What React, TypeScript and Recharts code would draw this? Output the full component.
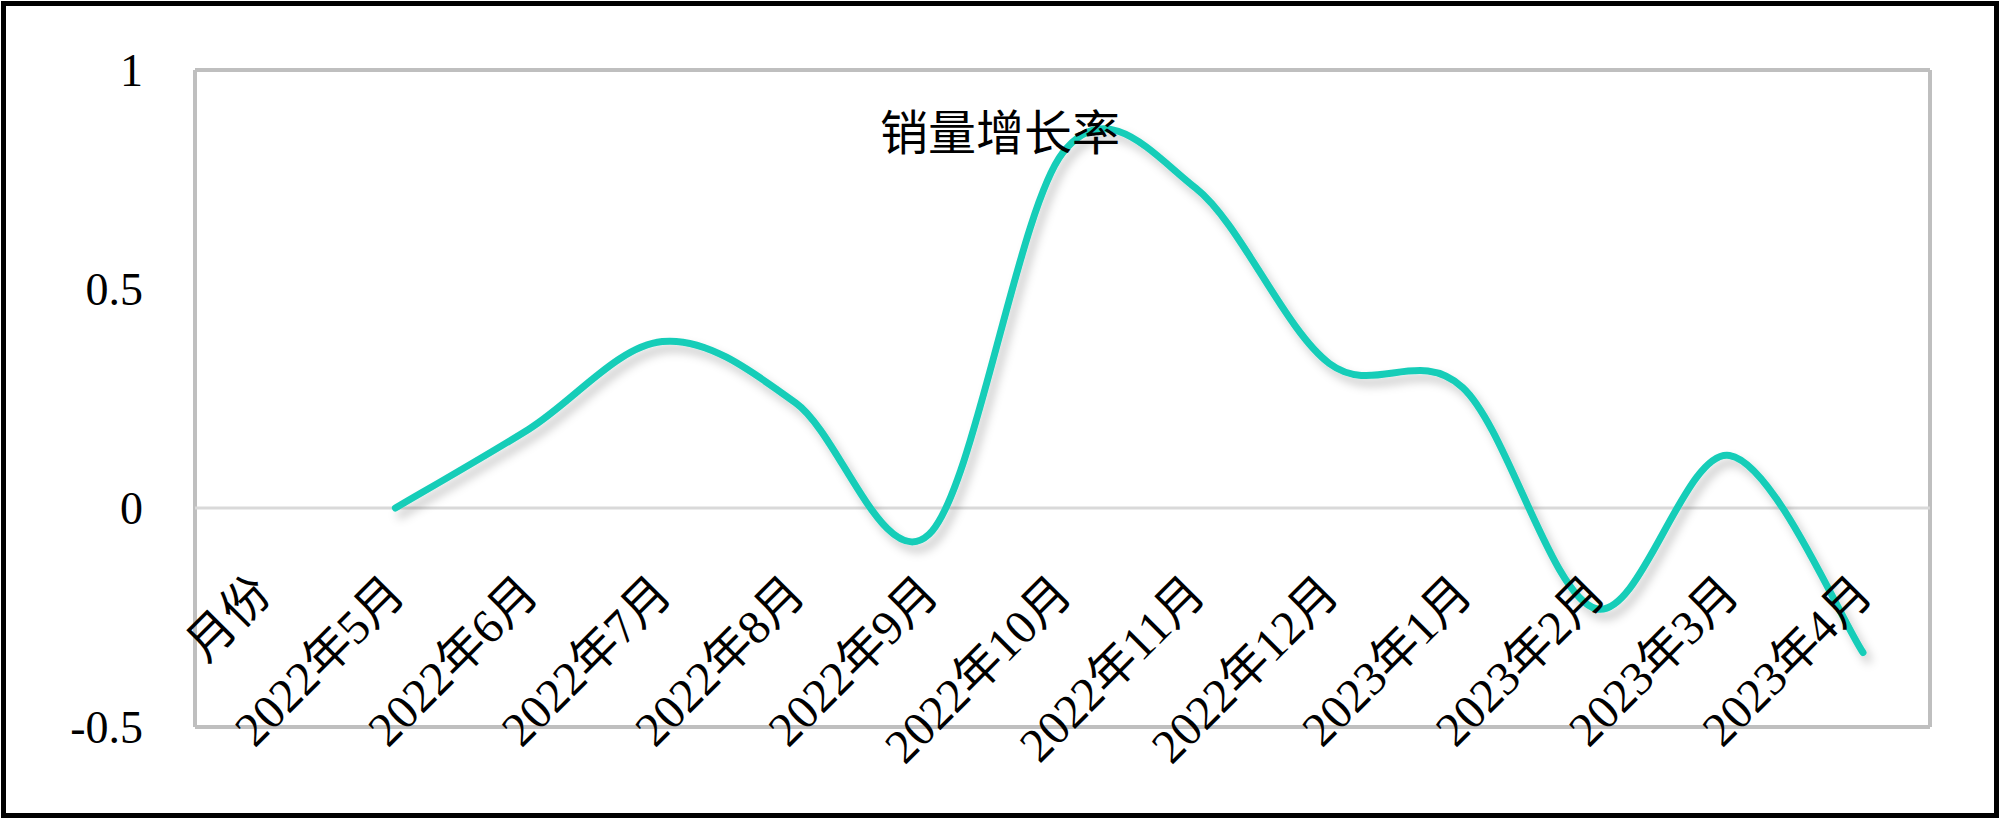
import React from 'react'
import { LineChart, Line, XAxis, YAxis, CartesianGrid, ReferenceLine } from 'recharts'

const months = [
  '月份', '2022年5月', '2022年6月', '2022年7月', '2022年8月', '2022年9月', '2022年10月',
  '2022年11月', '2022年12月', '2023年1月', '2023年2月', '2023年3月', '2023年4月',
]
const growth: (number | null)[] = [null, 0, 0.18, 0.38, 0.24, -0.06, 0.81, 0.73, 0.33, 0.275, -0.23, 0.12, -0.33]
const yTicks = [-0.5, 0, 0.5, 1]

const data = months.map((m, i) => ({ month: m, rate: growth[i] }))

const FONT = '"Liberation Serif", "Times New Roman", "Noto Sans CJK SC", serif'

// Excel-style smoothing: Catmull-Rom segments as cubic beziers
const excelCurve = (context: any) => {
  let pts: [number, number][] = []
  return {
    areaStart() {},
    areaEnd() {},
    lineStart() { pts = [] },
    lineEnd() {
      const n = pts.length
      if (!n) return
      context.moveTo(pts[0][0], pts[0][1])
      for (let i = 0; i < n - 1; i++) {
        const p0 = pts[i - 1] || pts[i]
        const p1 = pts[i]
        const p2 = pts[i + 1]
        const p3 = pts[i + 2] || pts[i + 1]
        context.bezierCurveTo(
          p1[0] + (p2[0] - p0[0]) / 6, p1[1] + (p2[1] - p0[1]) / 6,
          p2[0] - (p3[0] - p1[0]) / 6, p2[1] - (p3[1] - p1[1]) / 6,
          p2[0], p2[1],
        )
      }
    },
    point(x: number, y: number) { pts.push([+x, +y]) },
  }
}

const MonthTick = ({ x, y, payload }: any) => (
  <text
    transform={`translate(${x + 12},${y - 131}) rotate(-45)`}
    textAnchor="end"
    fontSize={48}
    fontFamily={FONT}
    fill="#000"
  >
    {payload.value}
  </text>
)

// plot frame = grid lines on the plot edges only
const frameX = ({ offset }: any) => [offset.left, offset.left + offset.width]
const frameY = ({ offset }: any) => [offset.top, offset.top + offset.height]

export default function App() {
  return (
    <div style={{ position: 'fixed', left: 0, top: 0, width: 2000, height: 819, background: '#fff' }}>
      <div style={{ position: 'absolute', left: 1, top: 1, width: 1998, height: 817, boxSizing: 'border-box', border: '5px solid #000' }} />
      <LineChart width={2000} height={819} data={data} margin={{ top: 70, right: 70, left: 75, bottom: 0 }}>
        <defs>
          <filter id="lineShadow" x="-10%" y="-10%" width="120%" height="130%">
            <feDropShadow dx={5} dy={7} stdDeviation={5} floodColor="#000" floodOpacity={0.22} />
          </filter>
        </defs>
        <CartesianGrid
          stroke="#bfbfbf"
          strokeWidth={4}
          verticalCoordinatesGenerator={frameX}
          horizontalCoordinatesGenerator={frameY}
        />
        <XAxis
          dataKey="month"
          interval={0}
          padding={{ left: 67, right: 67 }}
          axisLine={false}
          tickLine={false}
          tickSize={0}
          tickMargin={0}
          tick={<MonthTick />}
          height={92}
        />
        <YAxis
          domain={[-0.5, 1]}
          ticks={yTicks}
          width={120}
          axisLine={false}
          tickLine={false}
          tickSize={0}
          tickMargin={52}
          tick={{ fontSize: 46, fontFamily: FONT, fill: '#000' }}
        />
        <ReferenceLine y={0} stroke="#d9d9d9" strokeWidth={3} />
        <Line
          type={excelCurve as any}
          dataKey="rate"
          stroke="#17cdb8"
          strokeWidth={7}
          strokeLinecap="round"
          dot={false}
          activeDot={false}
          filter="url(#lineShadow)"
          isAnimationActive={false}
        />
      </LineChart>
      <div style={{ position: 'absolute', left: 0, width: 2000, top: 104, textAlign: 'center', fontSize: 48, lineHeight: '60px', fontFamily: FONT, color: '#000', pointerEvents: 'none' }}>
        销量增长率
      </div>
    </div>
  )
}
